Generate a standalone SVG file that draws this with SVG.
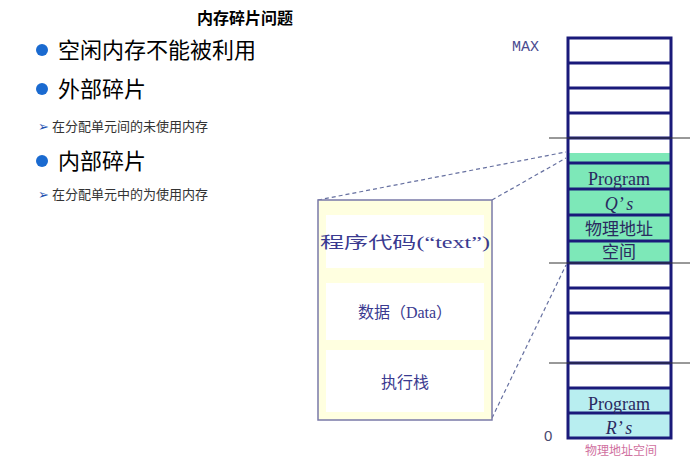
<svg xmlns="http://www.w3.org/2000/svg" width="693" height="461" viewBox="0 0 693 461">
<style>
.cjk{font-family:"Noto Sans CJK SC","Noto Sans",sans-serif}
.ser{font-family:"Liberation Serif","Noto Sans CJK SC",serif}
.row{fill:none;stroke:#1a1a7a;stroke-width:3}
.sep{stroke:#333;stroke-width:1}
.dash{stroke:#6670a0;stroke-width:1.2;stroke-dasharray:4 3;fill:none}
.inner{fill:#fff}
.bt{fill:#3a3a90;font-size:16px}
</style>
<rect width="693" height="461" fill="#fff"/>
<g id="text">
<text x="245" y="24" class="cjk" font-size="16" font-weight="bold" text-anchor="middle">内存碎片问题</text>
<circle cx="42" cy="50" r="6" fill="#1a6ad0"/>
<text x="58" y="58" class="cjk" font-size="22">空闲内存不能被利用</text>
<circle cx="42" cy="89" r="6" fill="#1a6ad0"/>
<text x="58" y="97" class="cjk" font-size="22">外部碎片</text>
<text x="38" y="131" class="cjk" font-size="13" fill="#333"><tspan fill="#2050b0">➢</tspan>  在分配单元间的未使用内存</text>
<circle cx="42" cy="161" r="6" fill="#1a6ad0"/>
<text x="58" y="169" class="cjk" font-size="22">内部碎片</text>
<text x="38" y="199" class="cjk" font-size="13" fill="#333"><tspan fill="#2050b0">➢</tspan>  在分配单元中的为使用内存</text>
</g>
<g id="connectors">
<line class="dash" x1="318" y1="200" x2="566" y2="152"/>
<line class="dash" x1="492" y1="200" x2="566" y2="158"/>
<line class="dash" x1="492" y1="418" x2="566" y2="265"/>
</g>
<g id="process">
<rect x="318" y="200" width="174" height="220" fill="#ffffe0" stroke="#7a7aa8" stroke-width="1.5"/>
<rect class="inner" x="326" y="215" width="158" height="53"/>
<rect class="inner" x="326" y="283" width="158" height="57"/>
<rect class="inner" x="326" y="350" width="158" height="62"/>
<text x="405" y="248" class="ser bt" text-anchor="middle" textLength="170" lengthAdjust="spacingAndGlyphs">程序代码(“text”)</text>
<text x="405" y="318" class="ser bt" text-anchor="middle">数据（Data）</text>
<text x="405" y="388" class="ser bt" text-anchor="middle">执行栈</text>
</g>
<g id="memory">
<rect x="568" y="153" width="103" height="110" fill="#7de8b8"/>
<rect x="568" y="388" width="103" height="49" fill="#b8eef0"/>
<path class="row" d="M568 38H671V438H568Z M568 63H671 M568 88H671 M568 113H671 M568 138H671 M568 163H671 M568 189H671 M568 215H671 M568 241H671 M568 263H671 M568 288H671 M568 313H671 M568 338H671 M568 363H671 M568 388H671 M568 413H671"/>
<line class="sep" x1="549" y1="138" x2="690" y2="138"/>
<line class="sep" x1="549" y1="263" x2="690" y2="263"/>
<line class="sep" x1="549" y1="363" x2="690" y2="363"/>
<g class="ser" font-size="18" fill="#2a2a60" text-anchor="middle">
<text x="619" y="185">Program</text>
<text x="619" y="210" font-style="italic">Q’ s</text>
<text x="619" y="235" font-size="17">物理地址</text>
<text x="619" y="258" font-size="17">空间</text>
<text x="619" y="410">Program</text>
<text x="619" y="434" font-style="italic">R’ s</text>
</g>
<text x="512" y="51" font-family="Liberation Mono,monospace" font-size="15" fill="#4a4a90">MAX</text>
<text x="544" y="441" font-family="Liberation Sans,sans-serif" font-size="15" fill="#4a4a70">0</text>
<text x="621" y="455" class="cjk" font-size="12" fill="#d070a0" text-anchor="middle">物理地址空间</text>
</g>
</svg>
